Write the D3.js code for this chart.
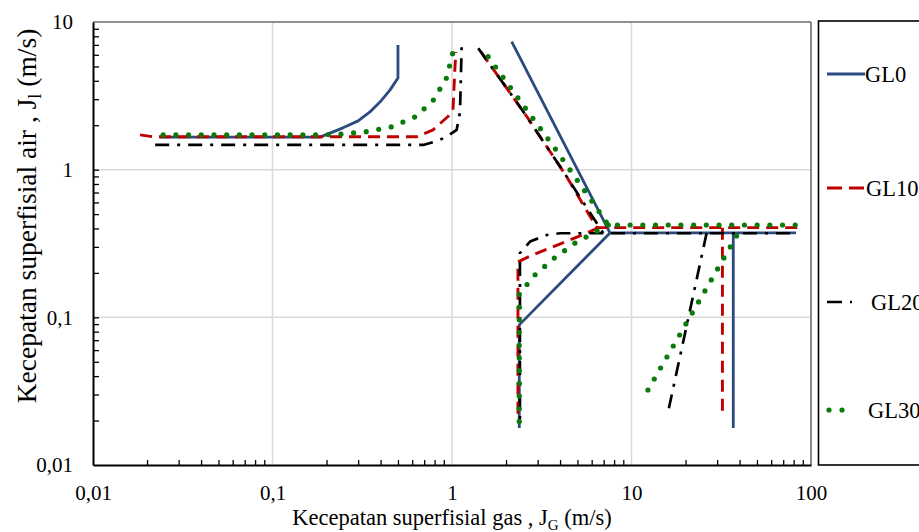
<!DOCTYPE html>
<html>
<head>
<meta charset="utf-8">
<script src="https://cdn.jsdelivr.net/npm/d3@7"></script>
<style>
  html, body { margin: 0; padding: 0; background: #fff; }
  svg { display: block; }
  svg text { font-family: "Liberation Serif", "Times New Roman", serif; }
</style>
</head>
<body>
<svg id="chart" width="919" height="532"></svg>
<script>
// Superficial liquid velocity (J_l) vs superficial gas velocity (J_G), m/s.
// Each series is a set of boundary segments given as [J_G, J_l] pairs.
const seriesNames = ["GL0", "GL10", "GL20", "GL30"];

const gl0Segments = [
  [[0.0236, 1.66], [0.184, 1.66], [0.247, 1.92], [0.30, 2.14], [0.349, 2.46], [0.397, 2.87], [0.452, 3.47], [0.50, 4.18], [0.50, 6.99]],
  [[2.15, 7.36], [7.59, 0.373], [82.5, 0.373]],
  [[7.59, 0.373], [2.37, 0.0889], [2.37, 0.0178]],
  [[36.9, 0.373], [36.9, 0.0178]]
];

const gl10Segments = [
  [[0.0183, 1.72], [0.0216, 1.67], [0.636, 1.67], [0.784, 1.86], [0.95, 2.29], [1.013, 2.54], [1.039, 4.98], [1.052, 6.27]],
  [[1.45, 6.27], [2.61, 2.29], [4.35, 0.897], [6.40, 0.405], [85.0, 0.405]],
  [[6.60, 0.405], [5.16, 0.356], [2.72, 0.26], [2.33, 0.237], [2.33, 0.0218]],
  [[32.1, 0.405], [32.1, 0.0218]]
];

const gl20Segments = [
  [[0.0222, 1.47], [0.692, 1.47], [0.822, 1.56], [0.934, 1.67], [1.062, 1.86], [1.108, 2.46], [1.132, 6.80]],
  [[1.40, 6.64], [2.39, 2.67], [4.0, 1.05], [6.97, 0.371], [79.3, 0.371]],
  [[6.97, 0.371], [4.0, 0.371], [3.37, 0.361], [2.72, 0.326], [2.39, 0.272], [2.39, 0.0182]],
  [[26.2, 0.371], [16.0, 0.023]]
];

const gl30Segments = [
  [[0.0246, 1.72], [0.176, 1.72], [0.243, 1.74], [0.335, 1.81], [0.461, 1.95], [0.63, 2.29], [0.787, 2.96], [0.934, 4.20], [1.009, 6.14]],
  [[1.59, 5.82], [2.58, 2.58], [3.80, 1.36], [5.56, 0.703], [7.43, 0.422], [86.1, 0.422]],
  [[7.43, 0.422], [4.84, 0.318], [3.70, 0.251], [2.90, 0.194], [2.37, 0.144], [2.37, 0.0197]],
  [[38.5, 0.356], [12.2, 0.0314]]
];

const xMajorTicks = [0.01, 0.1, 1, 10, 100];
const xTickLabels = ["0,01", "0,1", "1", "10", "100"];
const yMajorTicks = [0.01, 0.1, 1, 10];
const yTickLabels = ["0,01", "0,1", "1", "10"];

// Line styles per series
const styles = [
  { color: "#2B4A7E", width: 2.8, dash: null, cap: "butt" },
  { color: "#C00000", width: 2.9, dash: "12 7", cap: "butt" },
  { color: "#000000", width: 2.7, dash: "14 8 3 8", cap: "butt" },
  { color: "#0A7A0A", width: 5.2, dash: "0 12.7", cap: "round" }
];
const allSegments = [gl0Segments, gl10Segments, gl20Segments, gl30Segments];

const svg = d3.select("#chart");
const plot = { left: 93, right: 811, top: 22, bottom: 465 };

const x = d3.scaleLog().domain([0.01, 100]).range([plot.left, plot.right]);
const y = d3.scaleLog().domain([0.01, 10]).range([plot.bottom, plot.top]);

// minor ticks 2..9 in every decade
function minorTicks(lo, hi) {
  const out = [];
  for (let d = lo; d < hi; d *= 10) {
    for (let k = 2; k <= 9; k++) out.push(+(k * d).toPrecision(3));
  }
  return out;
}
const xMinor = minorTicks(0.01, 100);
const yMinor = minorTicks(0.01, 10);

// gridlines at major decades
const grid = svg.append("g").attr("stroke", "#d9d9d9").attr("stroke-width", 1.5);
grid.selectAll(".gx").data([0.1, 1, 10]).join("line")
  .attr("x1", d => x(d)).attr("x2", d => x(d))
  .attr("y1", plot.top).attr("y2", plot.bottom);
grid.selectAll(".gy").data([0.1, 1]).join("line")
  .attr("y1", d => y(d)).attr("y2", d => y(d))
  .attr("x1", plot.left).attr("x2", plot.right);

// top and right frame
svg.append("line").attr("x1", plot.left).attr("x2", plot.right)
  .attr("y1", plot.top).attr("y2", plot.top)
  .attr("stroke", "#6b6b6b").attr("stroke-width", 1.6);
svg.append("line").attr("x1", plot.right).attr("x2", plot.right)
  .attr("y1", plot.top).attr("y2", plot.bottom)
  .attr("stroke", "#6b6b6b").attr("stroke-width", 1.6);

// series
const line = d3.line().x(d => x(d[0])).y(d => y(d[1]));
const seriesG = svg.append("g");
allSegments.forEach((segs, i) => {
  const s = styles[i];
  seriesG.append("g")
    .selectAll("path").data(segs).join("path")
    .attr("d", line)
    .attr("fill", "none")
    .attr("stroke", s.color)
    .attr("stroke-width", s.width)
    .attr("stroke-linecap", s.cap)
    .attr("stroke-linejoin", "round")
    .attr("stroke-dasharray", s.dash);
});

// axes
function styleAxis(g) {
  g.select(".domain").attr("stroke", "#000").attr("stroke-width", 2);
  g.selectAll(".tick line").attr("stroke", "#000").attr("stroke-width", 1.3);
}
svg.append("g").attr("transform", `translate(0,${plot.bottom})`)
  .call(d3.axisBottom(x).tickValues(xMinor).tickSizeInner(-5).tickSizeOuter(0).tickFormat(""))
  .call(styleAxis);
svg.append("g").attr("transform", `translate(${plot.left},0)`)
  .call(d3.axisLeft(y).tickValues(yMinor.concat([0.1, 1])).tickSizeInner(-6).tickSizeOuter(0).tickFormat(""))
  .call(styleAxis);

// tick labels
const xLab = svg.append("g").attr("transform", `translate(0,${plot.bottom})`)
  .call(d3.axisBottom(x).tickValues(xMajorTicks).tickSize(0).tickPadding(20)
    .tickFormat((d, i) => xTickLabels[i]));
xLab.select(".domain").remove();
xLab.attr("font-family", null);
xLab.selectAll("text").attr("font-size", 21).attr("fill", "#000");

const yLab = svg.append("g").attr("transform", `translate(${plot.left},0)`)
  .call(d3.axisLeft(y).tickValues(yMajorTicks).tickSize(0).tickPadding(20)
    .tickFormat((d, i) => yTickLabels[i]));
yLab.select(".domain").remove();
yLab.attr("font-family", null);
yLab.selectAll("text").attr("font-size", 21).attr("fill", "#000");

// axis titles
const xt = svg.append("text").attr("x", 452).attr("y", 525)
  .attr("text-anchor", "middle").attr("font-size", 22.5).attr("fill", "#000");
xt.append("tspan").text("Kecepatan superfisial gas , J");
xt.append("tspan").attr("font-size", 15).attr("dy", 5).text("G");
xt.append("tspan").attr("dy", -5).text(" (m/s)");

const yt = svg.append("text")
  .attr("transform", "translate(36,216) rotate(-90)")
  .attr("text-anchor", "middle").attr("font-size", 27.5).attr("fill", "#000");
yt.append("tspan").text("Kecepatan superfisial air , J");
yt.append("tspan").attr("font-size", 18).attr("dy", 5).text("l");
yt.append("tspan").attr("dy", -5).text(" (m/s)");

// legend
svg.append("rect").attr("x", 818.5).attr("y", 21).attr("width", 130).attr("height", 444)
  .attr("fill", "#fff").attr("stroke", "#000").attr("stroke-width", 1.6);
const legendY = [74, 188, 302, 410];
const legendTextX = [865, 866, 871, 868];
const legendSample = [
  { x1: 827, x2: 865 },
  { x1: 827, x2: 865 },
  { x1: 827, x2: 853 },
  { x1: 829, x2: 855 }
];
const legendDash = [null, "15 7", "15 8 2 20", "0 13"];
const lg = svg.append("g");
seriesNames.forEach((name, i) => {
  const s = styles[i];
  lg.append("line")
    .attr("x1", legendSample[i].x1).attr("x2", legendSample[i].x2)
    .attr("y1", legendY[i]).attr("y2", legendY[i])
    .attr("stroke", s.color).attr("stroke-width", s.width)
    .attr("stroke-linecap", s.cap)
    .attr("stroke-dasharray", legendDash[i]);
  lg.append("text").attr("x", legendTextX[i]).attr("y", legendY[i])
    .attr("dy", "0.35em").attr("font-size", 22.5).attr("fill", "#000").text(name);
});
</script>
</body>
</html>
